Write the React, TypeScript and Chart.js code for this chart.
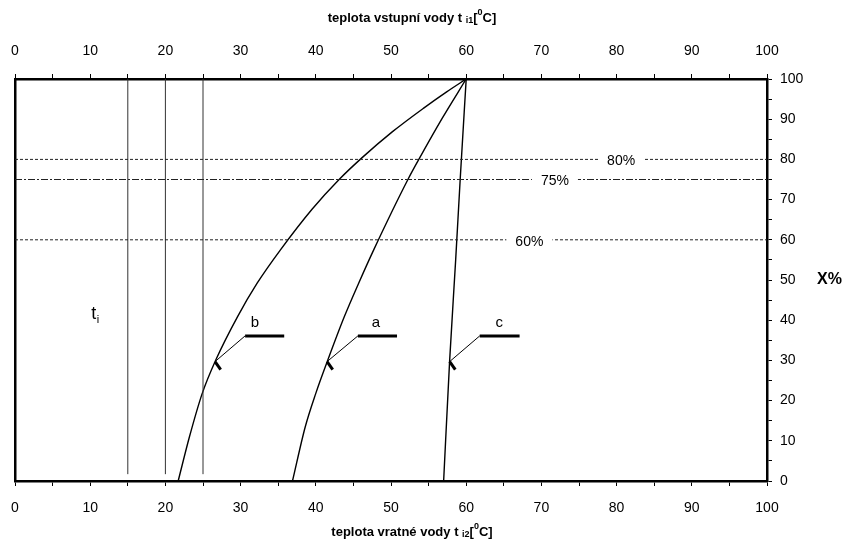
import { useEffect, useRef } from 'react';
import { Chart, registerables } from 'chart.js';

Chart.register(...registerables);

// ---- data ----
const axisMin = 0;
const axisMax = 100;
const tickStep = 5;
const labelStep = 10;

const curveBX = [21.7, 23.2, 24.9, 26.7, 29.6, 32.2, 35.3, 39.5, 43.1, 46.2, 50.2, 54.3, 57.4, 60];
const curveBY = [0, 11, 21.8, 30.1, 40.9, 49.2, 57.5, 67.6, 75, 80.5, 86.9, 92.7, 96.8, 100];

const curveAX = [36.9, 38.6, 40.0, 41.6, 43.8, 45.7, 47.7, 52.25, 53.85, 56.8, 60];
const curveAY = [0, 13.5, 21.8, 30.1, 40.9, 49.2, 57.5, 75, 80.5, 90.2, 100];

const curveCX = [57.0, 57.8, 58.6, 59.2, 60];
const curveCY = [0, 30, 55, 75, 100];

const tiLinesX = [15, 20, 25];
const tiLineBottom = 1.7;
const tiLineTop = 100;

const levelValues = [80, 75, 60];
const levelLabels = ['80%', '75%', '60%'];
const levelLabelX = [80.6, 71.8, 68.4];
const levelDashes = [[3, 2], [7, 2, 2, 2], [3, 2]];

const leaderNames = ['b', 'a', 'c'];
const leaderCurveX = [26.6, 41.5, 57.8];
const leaderCurveY = [29.7, 29.7, 29.7];
const leaderBarStartX = [30.6, 45.6, 61.8];
const leaderBarEndX = [35.8, 50.8, 67.1];
const leaderBarY = [36.1, 36.1, 36.1];
const leaderTickX = [27.35, 42.25, 58.55];
const leaderTickY = [27.7, 27.7, 27.7];
const leaderLabelX = [31.9, 48.0, 64.4];
const leaderLabelY = [39.4, 39.4, 39.4];

const tiLabelX = 10.8;
const tiLabelY = 41.5;

const topTitle = ['teplota vstupní vody t ', 'i1', '[', '0', 'C]'];
const bottomTitle = ['teplota vratné vody t ', 'i2', '[', '0', 'C]'];
const rightTitle = 'X%';

const FONT = '"Liberation Sans", Arial, sans-serif';

const zip = (xs: number[], ys: number[]) => xs.map((x, i) => ({ x, y: ys[i] }));

type Part = { text: string; size: number; bold: boolean; dy: number };

function richParts(p: string[]): Part[] {
  return [
    { text: p[0], size: 13, bold: true, dy: 0 },
    { text: p[1], size: 9, bold: true, dy: 3 },
    { text: p[2], size: 13, bold: true, dy: 0 },
    { text: p[3], size: 9, bold: true, dy: -5 },
    { text: p[4], size: 13, bold: true, dy: 0 },
  ];
}

function drawRich(ctx: CanvasRenderingContext2D, parts: Part[], cx: number, cy: number) {
  let total = 0;
  const widths = parts.map((pt) => {
    ctx.font = `${pt.bold ? 'bold ' : ''}${pt.size}px ${FONT}`;
    const w = ctx.measureText(pt.text).width;
    total += w;
    return w;
  });
  let x = cx - total / 2;
  ctx.textBaseline = 'middle';
  ctx.textAlign = 'left';
  parts.forEach((pt, i) => {
    ctx.font = `${pt.bold ? 'bold ' : ''}${pt.size}px ${FONT}`;
    ctx.fillText(pt.text, x, cy + pt.dy);
    x += widths[i];
  });
}

const textPlugin = {
  id: 'textPlugin',
  afterDraw(chart: any) {
    const ctx: CanvasRenderingContext2D = chart.ctx;
    const xs = chart.scales.x;
    const ys = chart.scales.y;
    ctx.save();
    ctx.fillStyle = '#000';

    // level labels with white background
    ctx.font = `14px ${FONT}`;
    ctx.textAlign = 'center';
    ctx.textBaseline = 'middle';
    levelLabels.forEach((lab, i) => {
      const px = xs.getPixelForValue(levelLabelX[i]);
      const py = ys.getPixelForValue(levelValues[i]);
      const w = ctx.measureText(lab).width;
      ctx.fillStyle = '#fff';
      ctx.fillRect(px - w / 2 - 9, py - 4, w + 18, 8);
      ctx.fillStyle = '#000';
      ctx.fillText(lab, px, py + 2);
    });

    // leader labels
    ctx.font = `15px ${FONT}`;
    leaderNames.forEach((n, i) => {
      ctx.fillText(n, xs.getPixelForValue(leaderLabelX[i]), ys.getPixelForValue(leaderLabelY[i]));
    });

    // t_i label
    const tx = xs.getPixelForValue(tiLabelX);
    const ty = ys.getPixelForValue(tiLabelY);
    ctx.font = `18px ${FONT}`;
    ctx.textAlign = 'right';
    ctx.fillText('t', tx, ty);
    ctx.font = `11px ${FONT}`;
    ctx.textAlign = 'left';
    ctx.fillText('i', tx + 0.5, ty + 6);

    // axis titles
    const cx = (chart.chartArea.left + chart.chartArea.right) / 2 + 21;
    drawRich(ctx, richParts(topTitle), cx, 18);
    drawRich(ctx, richParts(bottomTitle), cx, 532);

    ctx.font = `bold 16px ${FONT}`;
    ctx.textAlign = 'left';
    ctx.textBaseline = 'middle';
    ctx.fillText(rightTitle, chart.chartArea.right + 50, ys.getPixelForValue(50));
    ctx.restore();
  },
};

export default function App() {
  const ref = useRef<HTMLCanvasElement | null>(null);
  useEffect(() => {
    if (!ref.current) return;
    const lineDs = (data: { x: number; y: number }[], width: number, dash: number[] = [], color = '#000', smooth = false) => ({
      data,
      showLine: true,
      borderColor: color,
      borderWidth: width,
      borderDash: dash,
      pointRadius: 0,
      cubicInterpolationMode: smooth ? 'monotone' : 'default',
      tension: 0,
      fill: false,
      xAxisID: 'x',
      yAxisID: 'y',
    });

    const datasets: any[] = [];
    levelValues.forEach((v, i) => {
      datasets.push(lineDs([{ x: axisMin, y: v }, { x: axisMax, y: v }], 1, levelDashes[i], '#222'));
    });
    tiLinesX.forEach((x) => {
      datasets.push(lineDs([{ x, y: tiLineBottom }, { x, y: tiLineTop }], 1, [], '#333'));
    });
    datasets.push(lineDs(zip(curveBX, curveBY), 1.4, [], '#000', true));
    datasets.push(lineDs(zip(curveAX, curveAY), 1.4, [], '#000', true));
    datasets.push(lineDs(zip(curveCX, curveCY), 1.4, [], '#000', true));
    leaderNames.forEach((_, i) => {
      datasets.push(
        lineDs(
          [
            { x: leaderCurveX[i], y: leaderCurveY[i] },
            { x: leaderBarStartX[i], y: leaderBarY[i] },
          ],
          1
        )
      );
      datasets.push(
        lineDs(
          [
            { x: leaderBarStartX[i], y: leaderBarY[i] },
            { x: leaderBarEndX[i], y: leaderBarY[i] },
          ],
          3
        )
      );
      datasets.push(
        lineDs(
          [
            { x: leaderCurveX[i], y: leaderCurveY[i] },
            { x: leaderTickX[i], y: leaderTickY[i] },
          ],
          3
        )
      );
    });

    const tickCb = (v: any) => (Number(v) % labelStep === 0 ? String(v) : '');
    const common = {
      type: 'linear',
      min: axisMin,
      max: axisMax,
      border: { display: true, color: '#000', width: 2.5 },
    };
    const fixH = (h: number) => (s: any) => {
      s.height = h;
      s.paddingLeft = 0;
      s.paddingRight = 0;
    };
    const fixW = (w: number) => (s: any) => {
      s.width = w;
      s.paddingTop = 0;
      s.paddingBottom = 0;
    };

    const chart = new Chart(ref.current, {
      type: 'scatter',
      data: { datasets },
      plugins: [textPlugin],
      options: {
        animation: false,
        responsive: false,
        layout: { padding: 0 },
        plugins: { legend: { display: false }, tooltip: { enabled: false } },
        scales: {
          x: {
            ...common,
            position: 'bottom',
            grid: { drawOnChartArea: false, drawTicks: true, tickLength: 5, tickColor: '#000', tickWidth: 1 },
            ticks: { stepSize: tickStep, autoSkip: false, maxRotation: 0, padding: 14, color: '#000', font: { family: FONT, size: 14 }, callback: tickCb },
            afterFit: fixH(65),
          },
          x2: {
            ...common,
            position: 'top',
            grid: { drawOnChartArea: false, drawTicks: true, tickLength: 5, tickColor: '#000', tickWidth: 1 },
            ticks: { stepSize: tickStep, autoSkip: false, maxRotation: 0, padding: 14, color: '#000', font: { family: FONT, size: 14 }, callback: tickCb },
            afterFit: fixH(79),
          },
          y: {
            ...common,
            position: 'left',
            grid: { drawOnChartArea: false, drawTicks: false },
            ticks: { display: false },
            afterFit: fixW(15),
          },
          y2: {
            ...common,
            position: 'right',
            grid: { drawOnChartArea: false, drawTicks: true, tickLength: 5, tickColor: '#000', tickWidth: 1 },
            ticks: { stepSize: tickStep, autoSkip: false, padding: 8, color: '#000', font: { family: FONT, size: 14 }, callback: tickCb },
            afterFit: fixW(78),
          },
        },
      } as any,
    });
    return () => chart.destroy();
  }, []);

  return (
    <div style={{ position: 'fixed', left: 0, top: 0, width: 845, height: 546, background: '#fff' }}>
      <canvas ref={ref} width={845} height={546} />
    </div>
  );
}
